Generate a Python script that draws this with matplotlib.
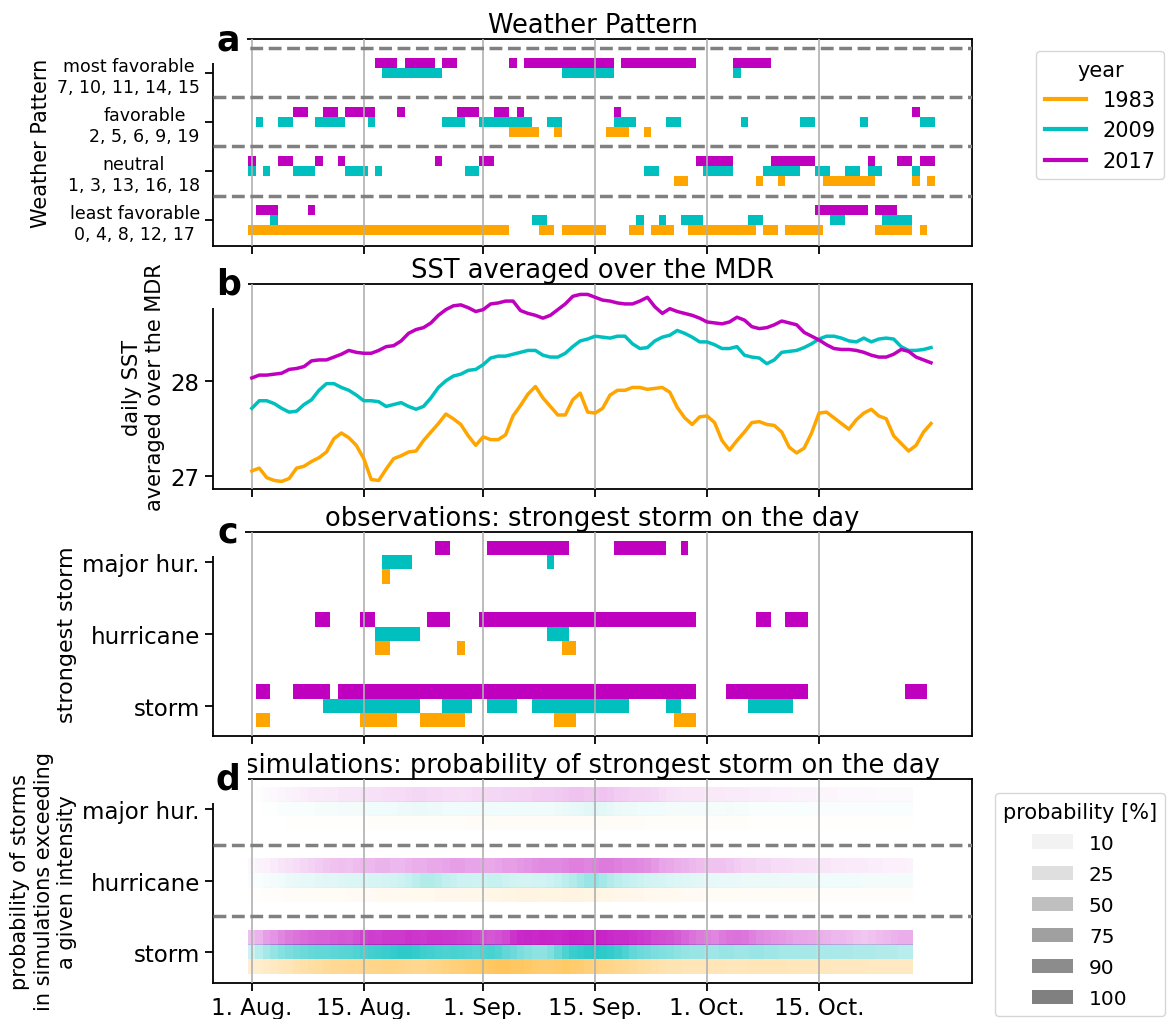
import numpy as np
import matplotlib
matplotlib.use("Agg")
import matplotlib.pyplot as plt
from matplotlib.colors import to_rgba
from matplotlib.lines import Line2D
from matplotlib.patches import Patch

years = ['1983', '2009', '2017']
year_colors = ['orange', 'c', 'm']
row_offset = [-1, 0, 1]   # 1983 below, 2017 above the tick

n_days = 92
tick_days = [0, 15, 31, 46, 61, 76]
tick_labels = ['1. Aug.', '15. Aug.', '1. Sep.', '15. Sep.', '1. Oct.', '15. Oct.']

# --- a: weather pattern group per day (0 least favorable ... 3 most favorable)
wp_labels = ['least favorable\n0, 4, 8, 12, 17', 'neutral\n1, 3, 13, 16, 18',
             'favorable\n2, 5, 6, 9, 19', 'most favorable\n7, 10, 11, 14, 15']
wp_1983 = [0, 0, 0, 0, 0, 0, 0, 0, 0, 0,
           0, 0, 0, 0, 0, 0, 0, 0, 0, 0,
           0, 0, 0, 0, 0, 0, 0, 0, 0, 0,
           0, 0, 0, 0, 0, 2, 2, 2, 2, 0,
           0, 2, 0, 0, 0, 0, 0, 0, 2, 2,
           2, 0, 0, 2, 0, 0, 0, 1, 1, 0,
           0, 0, 0, 0, 0, 0, 0, 0, 1, 0,
           0, 1, 0, 0, 0, 0, 0, 1, 1, 1,
           1, 1, 1, 1, 0, 0, 0, 0, 0, 1,
           0, 1]
wp_2009 = [1, 2, 1, 0, 2, 2, 1, 1, 1, 2,
           2, 2, 2, 1, 1, 1, 2, 1, 3, 3,
           3, 3, 3, 3, 3, 3, 2, 2, 2, 1,
           1, 2, 2, 2, 2, 2, 2, 2, 0, 0,
           2, 2, 3, 3, 3, 3, 3, 3, 3, 2,
           2, 2, 0, 1, 1, 0, 2, 2, 0, 0,
           0, 1, 1, 1, 1, 3, 2, 0, 0, 1,
           1, 1, 1, 1, 2, 2, 1, 1, 0, 0,
           1, 1, 2, 1, 1, 0, 0, 0, 0, 1,
           2, 2]
wp_2017 = [1, 0, 0, 0, 1, 1, 2, 2, 0, 1,
           2, 2, 1, 2, 2, 2, 2, 3, 3, 3,
           2, 3, 3, 3, 3, 1, 3, 3, 2, 2,
           2, 1, 1, 2, 2, 3, 2, 3, 3, 3,
           3, 3, 3, 3, 3, 3, 3, 3, 3, 2,
           3, 3, 3, 3, 3, 3, 3, 3, 3, 3,
           1, 1, 1, 1, 1, 3, 3, 3, 3, 3,
           1, 1, 1, 1, 1, 1, 0, 0, 0, 0,
           0, 0, 0, 1, 0, 0, 0, 1, 1, 2,
           1, 1]

# --- b: daily SST averaged over the MDR
sst_1983 = [27.05, 27.08, 26.98, 26.95, 26.94, 26.97, 27.08, 27.10, 27.15, 27.19,
            27.25, 27.39, 27.45, 27.40, 27.32, 27.18, 26.96, 26.95, 27.07, 27.18,
            27.21, 27.25, 27.26, 27.37, 27.46, 27.55, 27.65, 27.60, 27.54, 27.42,
            27.32, 27.41, 27.38, 27.38, 27.43, 27.63, 27.74, 27.86, 27.94, 27.82,
            27.73, 27.64, 27.64, 27.80, 27.87, 27.67, 27.66, 27.71, 27.85, 27.90,
            27.90, 27.93, 27.93, 27.91, 27.92, 27.93, 27.88, 27.72, 27.61, 27.54,
            27.62, 27.63, 27.56, 27.37, 27.27, 27.37, 27.46, 27.56, 27.57, 27.54,
            27.53, 27.46, 27.30, 27.24, 27.29, 27.45, 27.66, 27.67, 27.61, 27.55,
            27.49, 27.59, 27.66, 27.70, 27.63, 27.60, 27.42, 27.34, 27.26, 27.32,
            27.46, 27.55]
sst_2009 = [27.71, 27.79, 27.79, 27.76, 27.71, 27.67, 27.68, 27.75, 27.80, 27.90,
            27.97, 27.97, 27.93, 27.90, 27.85, 27.79, 27.79, 27.78, 27.73, 27.75,
            27.77, 27.73, 27.70, 27.73, 27.82, 27.93, 28.00, 28.05, 28.07, 28.11,
            28.12, 28.17, 28.24, 28.26, 28.26, 28.28, 28.30, 28.32, 28.32, 28.27,
            28.25, 28.25, 28.29, 28.36, 28.42, 28.44, 28.47, 28.46, 28.45, 28.47,
            28.47, 28.39, 28.34, 28.35, 28.42, 28.46, 28.48, 28.53, 28.50, 28.46,
            28.41, 28.41, 28.38, 28.34, 28.34, 28.36, 28.27, 28.25, 28.24, 28.18,
            28.22, 28.30, 28.31, 28.32, 28.35, 28.39, 28.44, 28.47, 28.47, 28.45,
            28.42, 28.41, 28.45, 28.41, 28.44, 28.45, 28.44, 28.36, 28.32, 28.32,
            28.33, 28.35]
sst_2017 = [28.03, 28.06, 28.06, 28.07, 28.08, 28.12, 28.13, 28.15, 28.21, 28.22,
            28.22, 28.25, 28.28, 28.32, 28.30, 28.29, 28.29, 28.32, 28.36, 28.37,
            28.42, 28.50, 28.54, 28.56, 28.61, 28.69, 28.75, 28.79, 28.80, 28.77,
            28.73, 28.75, 28.81, 28.82, 28.84, 28.84, 28.74, 28.71, 28.69, 28.66,
            28.69, 28.75, 28.81, 28.89, 28.91, 28.91, 28.88, 28.85, 28.84, 28.82,
            28.81, 28.81, 28.84, 28.88, 28.78, 28.71, 28.76, 28.73, 28.71, 28.69,
            28.66, 28.62, 28.61, 28.60, 28.62, 28.67, 28.64, 28.57, 28.55, 28.56,
            28.59, 28.63, 28.61, 28.59, 28.51, 28.47, 28.43, 28.38, 28.34, 28.33,
            28.33, 28.32, 28.30, 28.27, 28.25, 28.25, 28.28, 28.33, 28.31, 28.25,
            28.22, 28.19]

# --- c: strongest observed storm per day (0 none, 1 storm, 2 hurricane, 3 major)
storm_levels = ['storm', 'hurricane', 'major hur.']
obs_1983 = [0, 1, 1, 0, 0, 0, 0, 0, 0, 0,
            0, 0, 0, 0, 0, 1, 1, 2, 3, 1,
            0, 0, 0, 1, 1, 1, 1, 1, 2, 0,
            0, 0, 0, 0, 0, 0, 0, 0, 0, 0,
            0, 1, 2, 2, 0, 0, 0, 0, 0, 0,
            0, 0, 0, 0, 0, 0, 0, 1, 1, 1,
            0, 0, 0, 0, 0, 0, 0, 0, 0, 0,
            0, 0, 0, 0, 0, 0, 0, 0, 0, 0,
            0, 0, 0, 0, 0, 0, 0, 0, 0, 0,
            0, 0]
obs_2009 = [0, 0, 0, 0, 0, 0, 0, 0, 0, 0,
            1, 1, 1, 1, 1, 1, 1, 2, 3, 3,
            3, 3, 2, 0, 0, 0, 1, 1, 1, 1,
            0, 0, 1, 1, 1, 1, 0, 0, 1, 1,
            3, 2, 2, 1, 1, 1, 1, 1, 1, 1,
            1, 0, 0, 0, 0, 0, 1, 1, 0, 0,
            0, 0, 0, 0, 0, 0, 0, 1, 1, 1,
            1, 1, 1, 0, 0, 0, 0, 0, 0, 0,
            0, 0, 0, 0, 0, 0, 0, 0, 0, 0,
            0, 0]
obs_2017 = [0, 1, 1, 0, 0, 0, 1, 1, 1, 2,
            2, 0, 1, 1, 1, 2, 2, 1, 1, 1,
            1, 1, 1, 1, 2, 3, 3, 1, 1, 1,
            1, 2, 3, 3, 3, 3, 3, 3, 3, 3,
            3, 3, 3, 2, 2, 2, 2, 2, 2, 3,
            3, 3, 3, 3, 3, 3, 2, 2, 3, 2,
            0, 0, 0, 0, 1, 1, 1, 1, 2, 2,
            1, 1, 2, 2, 2, 0, 0, 0, 0, 0,
            0, 0, 0, 0, 0, 0, 0, 0, 1, 1,
            1, 0]

# --- d: simulated probability [%] of the strongest storm exceeding a level (days 0-88)
p_storm_1983 = [18, 20, 22, 24, 26, 28, 32, 34, 36, 38, 40, 42, 42, 44, 44, 45, 46, 46, 48, 48,
                46, 45, 44, 44, 46, 48, 50, 52, 54, 56, 58, 60, 62, 64, 64, 62, 62, 60, 58, 56,
                56, 58, 60, 58, 56, 52, 50, 48, 46, 44, 42, 40, 38, 36, 34, 32, 30, 30, 28, 28,
                28, 28, 28, 28, 27, 27, 27, 28, 28, 28, 28, 28, 27, 27, 26, 26, 26, 26, 25, 25,
                25, 25, 25, 24, 24, 24, 24, 24, 24]
p_storm_2009 = [20, 28, 35, 42, 48, 52, 55, 58, 60, 62, 62, 64, 65, 66, 68, 72, 74, 76, 78, 80,
                82, 82, 80, 76, 74, 72, 70, 72, 70, 68, 66, 70, 72, 68, 62, 58, 52, 48, 45, 44,
                50, 60, 70, 78, 80, 82, 84, 82, 80, 76, 70, 62, 58, 55, 52, 50, 48, 45, 42, 40,
                40, 38, 38, 40, 40, 38, 38, 40, 40, 38, 38, 36, 36, 36, 35, 35, 34, 34, 34, 33,
                33, 32, 32, 32, 30, 30, 30, 28, 28]
p_storm_2017 = [25, 30, 38, 42, 48, 52, 55, 58, 60, 62, 62, 64, 66, 65, 68, 74, 76, 75, 77, 78,
                78, 80, 79, 78, 80, 80, 79, 78, 76, 75, 72, 68, 66, 68, 72, 80, 84, 85, 84, 86,
                85, 84, 86, 88, 87, 85, 88, 86, 84, 82, 82, 80, 78, 76, 72, 70, 68, 65, 60, 56,
                52, 50, 48, 52, 55, 56, 54, 50, 46, 44, 42, 40, 38, 36, 35, 34, 32, 30, 28, 28,
                26, 24, 22, 24, 26, 28, 30, 32, 32]
p_hur_1983 = [1, 1, 2, 2, 2, 3, 3, 3, 3, 4, 4, 4, 4, 5, 5, 5, 5, 6, 6, 6,
              6, 6, 7, 7, 7, 8, 8, 8, 8, 9, 9, 9, 10, 10, 11, 11, 12, 12, 12, 11,
              11, 11, 12, 12, 12, 11, 11, 10, 10, 9, 9, 8, 8, 7, 7, 6, 6, 6, 5, 5,
              5, 4, 4, 4, 4, 4, 3, 3, 3, 3, 3, 3, 3, 3, 3, 3, 2, 2, 2, 2,
              2, 2, 2, 2, 2, 2, 2, 2, 2]
p_hur_2009 = [2, 3, 4, 5, 6, 8, 9, 10, 10, 11, 12, 12, 13, 14, 14, 15, 16, 16, 17, 18,
              20, 22, 26, 30, 30, 28, 24, 22, 20, 20, 19, 20, 22, 22, 20, 18, 17, 17, 18, 18,
              20, 22, 26, 30, 36, 40, 40, 36, 30, 26, 24, 22, 20, 18, 17, 16, 15, 14, 13, 12,
              11, 10, 10, 9, 9, 9, 8, 8, 8, 8, 8, 7, 7, 7, 7, 7, 6, 6, 6, 6,
              6, 6, 5, 5, 5, 5, 5, 5, 5]
p_hur_2017 = [3, 5, 6, 8, 10, 12, 14, 16, 18, 20, 22, 24, 25, 24, 26, 28, 28, 30, 30, 28,
              28, 30, 32, 32, 34, 34, 36, 38, 38, 36, 36, 34, 34, 36, 38, 38, 40, 42, 44, 46,
              46, 46, 48, 50, 50, 48, 50, 52, 52, 50, 48, 48, 46, 44, 40, 36, 34, 32, 30, 28,
              26, 24, 24, 24, 22, 20, 18, 18, 16, 16, 14, 14, 13, 12, 12, 11, 10, 10, 9, 9,
              8, 8, 8, 7, 7, 6, 6, 6, 5]
p_major_1983 = [0, 0, 0, 0, 0, 1, 1, 1, 1, 1, 1, 1, 1, 1, 1, 1, 2, 2, 2, 2,
                2, 2, 2, 2, 2, 2, 2, 2, 2, 3, 3, 3, 3, 3, 3, 3, 3, 3, 3, 3,
                3, 3, 3, 3, 3, 3, 3, 3, 3, 3, 3, 3, 3, 2, 2, 2, 2, 2, 2, 2,
                2, 2, 2, 2, 2, 2, 2, 1, 1, 1, 1, 1, 1, 1, 1, 1, 1, 1, 1, 1,
                1, 1, 1, 1, 1, 1, 1, 1, 1]
p_major_2009 = [0, 0, 1, 1, 2, 2, 3, 3, 3, 4, 4, 4, 5, 5, 5, 5, 6, 6, 6, 6,
                7, 7, 8, 8, 7, 7, 6, 6, 6, 6, 6, 6, 6, 6, 6, 6, 6, 6, 6, 6,
                6, 7, 8, 9, 10, 11, 12, 11, 10, 8, 7, 7, 6, 6, 6, 6, 5, 5, 5, 5,
                5, 5, 4, 4, 5, 4, 4, 3, 3, 3, 3, 3, 3, 3, 3, 2, 2, 2, 2, 2,
                2, 2, 2, 2, 2, 2, 2, 2, 2]
p_major_2017 = [0, 1, 2, 3, 4, 5, 6, 7, 8, 8, 9, 9, 10, 10, 10, 11, 12, 12, 13, 14,
                14, 15, 16, 16, 15, 15, 14, 14, 13, 14, 15, 15, 16, 16, 17, 17, 18, 18, 19, 20,
                20, 21, 22, 24, 24, 22, 22, 24, 22, 20, 19, 18, 18, 17, 16, 14, 12, 11, 10, 10,
                10, 9, 9, 9, 8, 8, 8, 7, 7, 7, 6, 6, 6, 5, 5, 5, 4, 4, 4, 3,
                3, 3, 3, 3, 2, 2, 2, 2, 2]
legend_probs = [10, 25, 50, 75, 90, 100]

plt.rcParams['font.family'] = ['DejaVu Sans']
plt.rcParams['axes.linewidth'] = 1.3

fig = plt.figure(figsize=(11.71, 10.2), dpi=100)
left, width = 0.1819, 0.6482
ax_a = fig.add_axes([left, 0.7578, width, 0.2029])
ax_b = fig.add_axes([left, 0.5196, width, 0.2010])
ax_c = fig.add_axes([left, 0.2775, width, 0.2000])
ax_d = fig.add_axes([left, 0.0353, width, 0.2000])


def runs(mask):
    """(start, length) pairs of consecutive True days, cells centred on the day."""
    out, start = [], None
    for i, v in enumerate(mask):
        if v and start is None:
            start = i
        if not v and start is not None:
            out.append((start - 0.5, i - start))
            start = None
    if start is not None:
        out.append((start - 0.5, len(mask) - start))
    return out


def common(ax, letter, title, labels=False):
    ax.set_xlim(-5.2, 96.5)
    ax.set_xticks(tick_days)
    ax.set_xticklabels(tick_labels if labels else [])
    ax.grid(axis='x', color='#b0b0b0', lw=1.2)
    ax.set_axisbelow(False)
    ax.tick_params(length=6, width=1.3, labelsize=16.5)
    ax.set_title(title, fontsize=18.5, pad=5)
    ax.text(0.02, 1.0, letter, transform=ax.transAxes, ha='center', va='center',
            fontsize=25, fontweight='bold', zorder=20,
            bbox=dict(facecolor='white', edgecolor='none', pad=5))


# a
wp = [np.array(wp_1983), np.array(wp_2009), np.array(wp_2017)]
for g in range(4):
    for k in range(3):
        ax_a.broken_barh(runs(wp[k] == g), (5 * g + row_offset[k] - 0.5, 1),
                         facecolor=year_colors[k], edgecolor='none', zorder=1)
for y in [2.5, 7.5, 12.5, 17.5]:
    ax_a.axhline(y, color='gray', ls='--', lw=2.5, zorder=3)
ax_a.set_ylim(-2.65, 18.45)
ax_a.set_yticks([0, 5, 10, 15])
ax_a.set_yticklabels(wp_labels, multialignment='center')
common(ax_a, 'a', 'Weather Pattern')
ax_a.tick_params(axis='y', labelsize=12.5)
ax_a.set_ylabel('Weather Pattern', fontsize=15)

# b
days = np.arange(n_days)
for k, s in enumerate([sst_1983, sst_2009, sst_2017]):
    ax_b.plot(days, s, color=year_colors[k], lw=2.5, zorder=3)
ax_b.set_ylim(26.86, 29.02)
ax_b.set_yticks([27, 28])
common(ax_b, 'b', 'SST averaged over the MDR')
ax_b.set_ylabel('daily SST\naveraged over the MDR', fontsize=15)

# c
obs = [np.array(obs_1983), np.array(obs_2009), np.array(obs_2017)]
for g in range(3):
    for k in range(3):
        ax_c.broken_barh(runs(obs[k] >= g + 1), (5 * g + row_offset[k] - 0.5, 1),
                         facecolor=year_colors[k], edgecolor='none', zorder=1)
ax_c.set_ylim(-2.1, 12.1)
ax_c.set_yticks([0, 5, 10])
ax_c.set_yticklabels(storm_levels)
common(ax_c, 'c', 'observations: strongest storm on the day')
ax_c.set_ylabel('strongest storm', fontsize=16)

# d
probs = [[p_storm_1983, p_storm_2009, p_storm_2017],
         [p_hur_1983, p_hur_2009, p_hur_2017],
         [p_major_1983, p_major_2009, p_major_2017]]
for g in range(3):
    for k in range(3):
        p = np.array(probs[g][k], dtype=float) / 100
        img = np.zeros((1, len(p), 4))
        img[..., :3] = to_rgba(year_colors[k])[:3]
        img[..., 3] = p
        y = 5 * g + row_offset[k]
        ax_d.imshow(img, extent=(-0.5, len(p) - 0.5, y - 0.5, y + 0.5),
                    aspect='auto', interpolation='nearest', zorder=1)
for y in [2.5, 7.5]:
    ax_d.axhline(y, color='gray', ls='--', lw=2.5, zorder=3)
ax_d.set_ylim(-2.14, 12.09)
ax_d.set_yticks([0, 5, 10])
ax_d.set_yticklabels(storm_levels)
common(ax_d, 'd', 'simulations: probability of strongest storm on the day', labels=True)
ax_d.set_ylabel('probability of storms\nin simulations exceeding\na given intensity', fontsize=15)

# legends
year_handles = [Line2D([], [], color=c, lw=3) for c in year_colors]
fig.legend(year_handles, years, title='year', loc='upper left',
           bbox_to_anchor=(0.876, 0.959), fontsize=15, title_fontsize=15)
prob_handles = [Patch(facecolor='gray', edgecolor='none', alpha=p / 100) for p in legend_probs]
fig.legend(prob_handles, [str(p) for p in legend_probs], title='probability [%]',
           loc='upper left', bbox_to_anchor=(0.841, 0.231), fontsize=14.5, title_fontsize=15,
           labelspacing=0.6)

fig.savefig('out.png', dpi=100)
